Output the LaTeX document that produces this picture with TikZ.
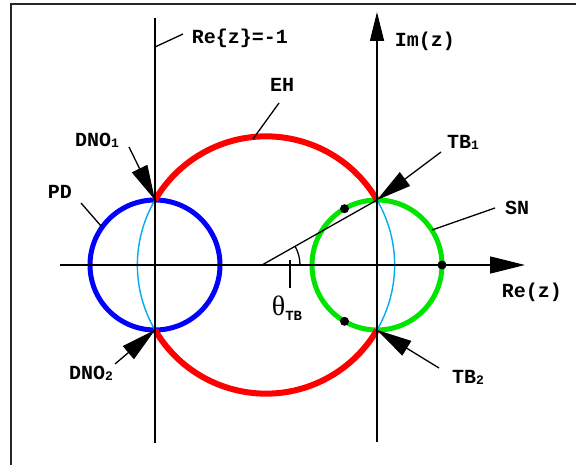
\documentclass[tikz,border=0pt]{standalone}
\usepackage{fontspec}
\setmainfont{Liberation Mono}
\newfontfamily\thetafont{Liberation Serif}
\usetikzlibrary{arrows.meta}
\newcommand{\lowsub}[1]{\raisebox{-1pt}{\fontsize{13}{13}\selectfont #1}}
\begin{document}
\begin{tikzpicture}[x=1pt,y=-1pt,
  lbl/.style={font=\fontsize{20}{20}\selectfont\bfseries, inner sep=0pt},
  blk/.style={line width=1.3pt, black},
  axisarrow/.style={blk, -{Triangle[length=33pt,width=16pt]}},
  ptrarrow/.style={blk, -{Triangle[length=35pt,width=17pt]}},
  ehline/.style={line width=6pt, red},
  pdline/.style={line width=5pt, blue},
  snline/.style={line width=5pt, green!90!black},
  cyanline/.style={line width=1.4pt, cyan},
  dotstyle/.style={circle, fill=black, inner sep=0pt, minimum size=9pt}]
\useasboundingbox (0,0) rectangle (576,465);
\fill[white] (0,0) rectangle (576,465);
% frame (cropped)
\draw[line width=1.7pt, black!85] (11,465) -- (11,4) -- (576,4);

% key points
\coordinate (D1) at (155,200);
\coordinate (D2) at (155,330);
\coordinate (T1) at (377,200);
\coordinate (T2) at (377,330);
\coordinate (PDc) at (155,265);
\coordinate (SNc) at (377,265);
\coordinate (V) at (262,265);

% circles
\draw[pdline] (PDc) circle[radius=65];
\draw[snline] (SNc) circle[radius=65];
\draw[ehline] (T1) arc[start angle=-30.35, end angle=-149.65, radius=128.63];
\draw[ehline] (D2) arc[start angle=149.65, end angle=30.35, radius=128.63];
\draw[cyanline] (D1) arc[start angle=-149.65, end angle=-210.35, radius=128.63];
\draw[cyanline] (T1) arc[start angle=-30.35, end angle=30.35, radius=128.63];

% axes and lines
\coordinate (ReB) at (155,443);
\coordinate (ReT) at (155,18);
\draw[blk] (ReB) -- (ReT);
\coordinate (ImB) at (377,442);
\coordinate (ImT) at (377,12);
\draw[axisarrow, -{Triangle[length=29pt,width=14pt]}] (ImB) -- (ImT);
\coordinate (XL) at (60,265);
\coordinate (XR) at (525,265);
\draw[axisarrow, -{Triangle[length=35pt,width=17pt]}] (XL) -- (XR);

% theta line and arc
\draw[blk] (V) -- (T1);
\draw[blk] (300,265) arc[start angle=0, end angle=-29.48, radius=38];

% dots
\node[dotstyle] (p0) at (442,265) {};
\node[dotstyle] (p1) at (344.5,208.7) {};
\node[dotstyle] (p2) at (344.5,321.3) {};

% labels
\node[lbl] (rez1) at (240,38) {Re\{z\}=-1};
\node[lbl] (imz) at (425,41) {Im(z)};
\node[lbl] (eh) at (282,85) {EH};
\node[lbl] (dno1) at (97,140) {DNO\lowsub{1}};
\node[lbl] (pd) at (60,192) {PD};
\node[lbl] (tb1) at (463,142) {TB\lowsub{1}};
\node[lbl] (sn) at (517,208) {SN};
\node[lbl] (rez) at (532,292) {Re(z)};
\node[lbl] (theta) at (287,308) {{\thetafont\mdseries\fontsize{28}{28}\selectfont θ}\raisebox{-5pt}{\fontsize{14}{14}\selectfont TB}};
\node[lbl] (dno2) at (91,373) {DNO\lowsub{2}};
\node[lbl] (tb2) at (468,377) {TB\lowsub{2}};

% leaders
\coordinate (rezA) at (183,34);
\coordinate (rezB) at (155,47);
\draw[blk] (rezA) -- (rezB);
\coordinate (ehA) at (279,103);
\coordinate (ehB) at (253,139);
\draw[blk] (ehA) -- (ehB);
\coordinate (pdA) at (81,203);
\coordinate (pdB) at (101,226);
\draw[blk] (pdA) -- (pdB);
\coordinate (snA) at (495,208);
\coordinate (snB) at (432,230);
\draw[blk] (snA) -- (snB);
\coordinate (thA) at (290,260);
\coordinate (thB) at (290,288);
\draw[blk] (thA) -- (thB);

% pointer arrows
\coordinate (dno1A) at (129,147);
\draw[ptrarrow] (dno1A) -- (D1);
\coordinate (tb1A) at (441,152);
\draw[ptrarrow] (tb1A) -- (T1);
\coordinate (dno2A) at (115,364);
\draw[ptrarrow] (dno2A) -- (D2);
\coordinate (tb2A) at (439,368);
\draw[ptrarrow] (tb2A) -- (T2);
\end{tikzpicture}
\end{document}
